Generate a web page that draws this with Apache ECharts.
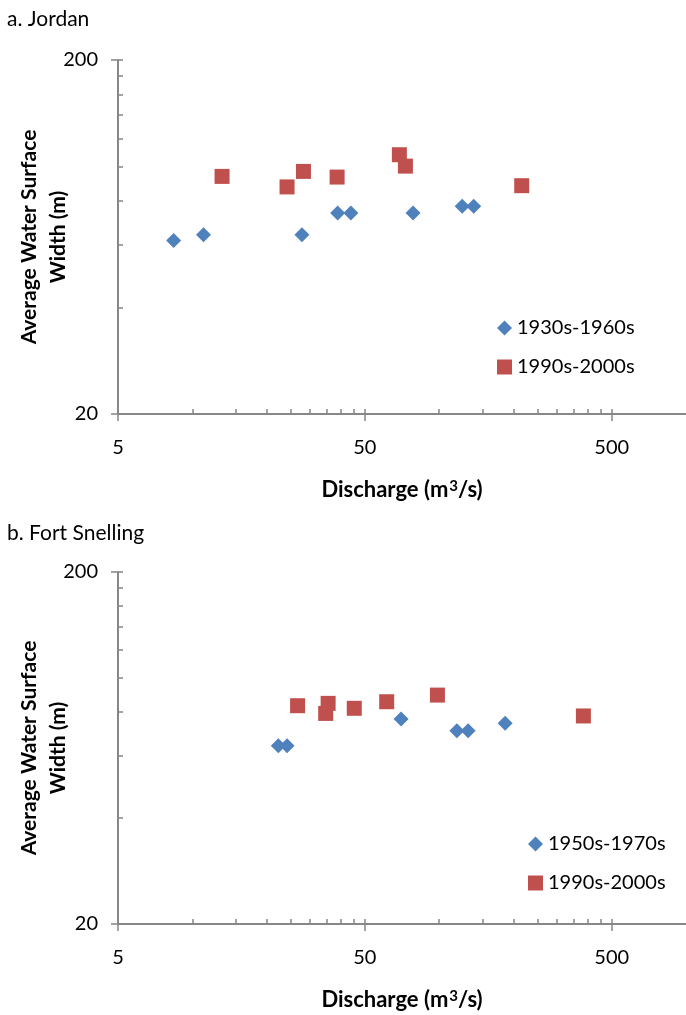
<!DOCTYPE html>
<html>
<head>
<meta charset="utf-8">
<script src="https://cdn.jsdelivr.net/npm/echarts@6/dist/echarts.min.js"></script>
<style>
  html, body { margin: 0; padding: 0; background: #fff; }
  #chart { width: 686px; height: 1015px; }
</style>
</head>
<body>
<div id="chart"></div>
<script>
// Tick values for the log axes
const xMajorTicks = [5, 50, 500];
const xMinorTicks = [5, 10, 15, 20, 25, 30, 35, 40, 45, 50, 100, 150, 200, 250, 300, 350, 400, 450, 500];
const yMajorTicks = [20, 200];
const yMinorTicks = [20, 40, 60, 80, 100, 120, 140, 160, 180, 200];

// Panel titles and legend names
const panelTitles = ['a. Jordan', 'b. Fort Snelling'];
const jordanNames = ['1930s-1960s', '1990s-2000s'];
const snellingNames = ['1950s-1970s', '1990s-2000s'];

// [discharge m3/s, average water surface width m]
const jordanEarly = [[8.4, 61.8], [11.1, 64.2], [27.8, 64.2], [38.8, 73.9], [43.9, 73.9], [78.4, 73.9], [124, 77.2], [138, 77.2]];
const jordanLate = [[13.2, 93.8], [24.2, 87.6], [28.2, 96.9], [38.6, 93.4], [69, 108], [73, 100.3], [216, 88.3]];
const snellingEarly = [[22.3, 64.2], [24.2, 64.2], [70.1, 76.4], [118, 70.8], [131, 70.8], [185, 74.3]];
const snellingLate = [[26.7, 83.4], [34.7, 79.3], [35.5, 84.7], [45.3, 82.0], [61.3, 85.6], [98.4, 89.4], [384, 78.0]];

const FONT = 'Lato, "Open Sans", sans-serif';
const AXIS_COLOR = '#878787';
const BLUE = '#4F81BD';
const RED = '#C0504D';

function xAxes(gridIndex) {
  return [
    {
      type: 'log', logBase: 10, min: 5, max: 1000, gridIndex, position: 'bottom',
      name: 'Discharge (m{sup|3}/s)', nameLocation: 'middle', nameGap: 65,
      nameTextStyle: {
        fontFamily: FONT, fontSize: 22, fontWeight: 'bold', color: '#000',
        rich: { sup: { fontFamily: FONT, fontSize: 15, fontWeight: 'bold', color: '#000', verticalAlign: 'top', padding: [0, 0, 7, 1] } }
      },
      axisLine: { show: true, lineStyle: { color: AXIS_COLOR, width: 2 } },
      axisTick: { show: true, inside: false, length: 7, customValues: xMajorTicks, lineStyle: { color: AXIS_COLOR, width: 1.5 } },
      axisLabel: { show: true, customValues: xMajorTicks, margin: 24, fontFamily: FONT, fontSize: 20, color: '#000' },
      splitLine: { show: false }, minorTick: { show: false }
    },
    {
      type: 'log', logBase: 10, min: 5, max: 1000, gridIndex, position: 'bottom', offset: 0,
      axisLine: { show: false },
      axisTick: { show: true, inside: true, length: 5, customValues: xMinorTicks, lineStyle: { color: AXIS_COLOR, width: 1.5 } },
      axisLabel: { show: false },
      splitLine: { show: false }
    }
  ];
}

function yAxes(gridIndex) {
  return [
    {
      type: 'log', logBase: 10, min: 20, max: 200, gridIndex, position: 'left',
      name: 'Average Water Surface\nWidth (m)', nameLocation: 'middle', nameGap: 45, nameMoveOverlap: false,
      nameTextStyle: { fontFamily: FONT, fontSize: 21, fontWeight: 'bold', color: '#000', lineHeight: 29, align: 'center' },
      axisLine: { show: true, lineStyle: { color: AXIS_COLOR, width: 2 } },
      axisTick: { show: true, inside: false, length: 7, customValues: yMajorTicks, lineStyle: { color: AXIS_COLOR, width: 1.5 } },
      axisLabel: { show: true, customValues: yMajorTicks, margin: 20, fontFamily: FONT, fontSize: 20, color: '#000' },
      splitLine: { show: false }
    },
    {
      type: 'log', logBase: 10, min: 20, max: 200, gridIndex, position: 'left', offset: 0,
      axisLine: { show: false },
      axisTick: { show: true, inside: true, length: 5, customValues: yMinorTicks, lineStyle: { color: AXIS_COLOR, width: 1.5 } },
      axisLabel: { show: false },
      splitLine: { show: false }
    }
  ];
}

function legend(names, left, top) {
  return {
    orient: 'vertical', left, top, itemWidth: 15, itemHeight: 15, itemGap: 17,
    selectedMode: false,
    textStyle: { fontFamily: FONT, fontSize: 20, color: '#000', lineHeight: 22 },
    data: [{ name: names[0], icon: 'diamond' }, { name: names[1], icon: 'rect' }]
  };
}

function scatter(name, data, color, symbol, axisIndex) {
  return {
    type: 'scatter', name, data, xAxisIndex: axisIndex, yAxisIndex: axisIndex,
    symbol, symbolSize: 15,
    itemStyle: { color, opacity: 1 },
    emphasis: { disabled: true }
  };
}

const chart = echarts.init(document.getElementById('chart'), null, { renderer: 'canvas' });
chart.setOption({
  animation: false,
  backgroundColor: '#fff',
  title: [
    { text: panelTitles[0], left: 2, top: 4, textStyle: { fontFamily: FONT, fontSize: 21, fontWeight: 'normal', color: '#000' } },
    { text: panelTitles[1], left: 2, top: 518, textStyle: { fontFamily: FONT, fontSize: 21, fontWeight: 'normal', color: '#000' } }
  ],
  grid: [
    { left: 118, top: 60, width: 568, height: 354, outerBoundsMode: 'none', containLabel: false },
    { left: 118, top: 572, width: 568, height: 352, outerBoundsMode: 'none', containLabel: false }
  ],
  xAxis: [...xAxes(0), ...xAxes(1)],
  yAxis: [...yAxes(0), ...yAxes(1)],
  legend: [legend(jordanNames, 492, 312), legend(snellingNames, 523, 828)],
  series: [
    scatter(jordanNames[0], jordanEarly, BLUE, 'diamond', 0),
    scatter(jordanNames[1], jordanLate, RED, 'rect', 0),
    scatter(snellingNames[0], snellingEarly, BLUE, 'diamond', 2),
    scatter(snellingNames[1], snellingLate, RED, 'rect', 2)
  ]
});
</script>
</body>
</html>
